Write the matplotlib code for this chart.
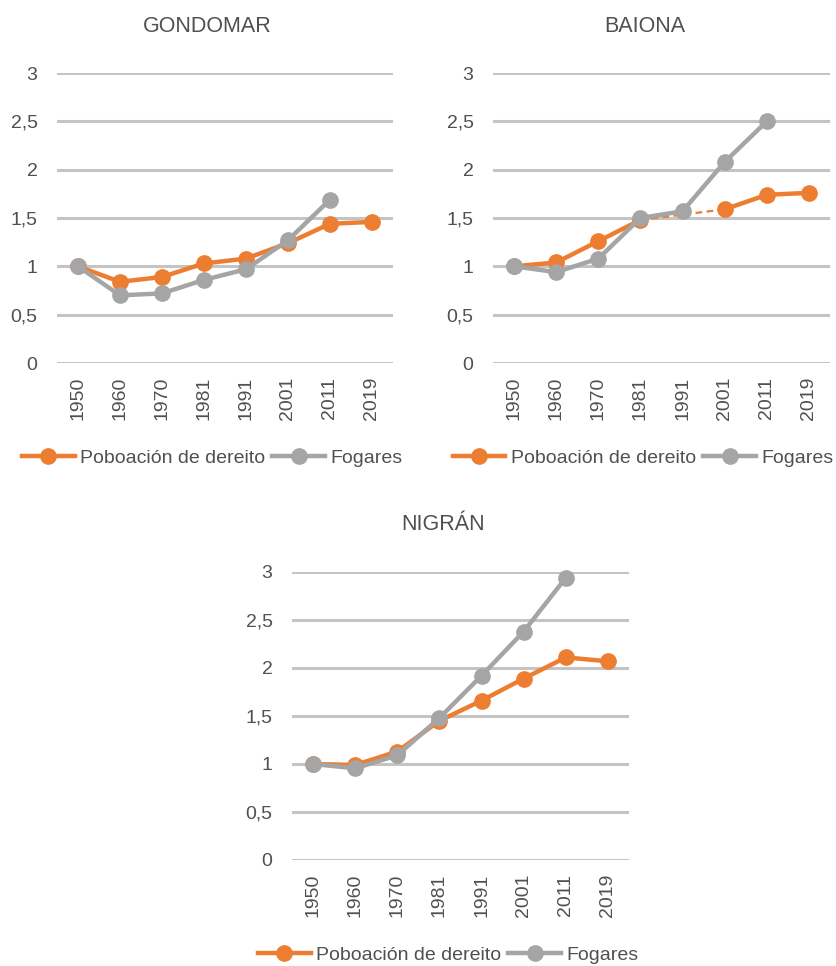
import numpy as np
import matplotlib
matplotlib.use("Agg")
import matplotlib.pyplot as plt

plt.rcParams['font.family'] = ['Liberation Sans', 'DejaVu Sans']

years = ['1950', '1960', '1970', '1981', '1991', '2001', '2011', '2019']
nan = np.nan

gondomar_pob = [1.00, 0.84, 0.89, 1.03, 1.08, 1.24, 1.44, 1.46]
gondomar_fog = [1.00, 0.70, 0.72, 0.86, 0.97, 1.27, 1.69, nan]

baiona_pob = [1.00, 1.04, 1.26, 1.48, nan, 1.59, 1.74, 1.76]
baiona_fog = [1.00, 0.94, 1.08, 1.50, 1.57, 2.08, 2.50, nan]

nigran_pob = [1.00, 0.99, 1.13, 1.45, 1.66, 1.89, 2.11, 2.07]
nigran_fog = [1.00, 0.955, 1.09, 1.48, 1.92, 2.38, 2.94, nan]

y_ticks = [0, 0.5, 1, 1.5, 2, 2.5, 3]
y_labels = ['0', '0,5', '1', '1,5', '2', '2,5', '3']

ORANGE = '#ED7D31'
GRAY = '#A5A5A5'
GRID = '#C4C4C4'
TEXT = '#505050'
FS = 14
TITLE_FS = 15.5

W, H = 837, 966
fig = plt.figure(figsize=(W / 100, H / 100), dpi=100)


def px_axes(x0, top, x1, bottom):
    return fig.add_axes([x0 / W, 1 - bottom / H, (x1 - x0) / W, (bottom - top) / H])


def draw_series(ax, x, vals, color, label, z):
    v = np.array(vals, dtype=float)
    # bridge interior gaps with a thin dashed segment
    valid = np.where(~np.isnan(v))[0]
    for a, b in zip(valid[:-1], valid[1:]):
        if b - a > 1:
            ax.plot([x[a], x[b]], [v[a], v[b]], color=color, lw=1.6,
                    ls=(0, (3, 2)), zorder=z - 0.5)
    ax.plot(x, v, color=color, lw=3.2, marker='o', ms=11, label=label,
            zorder=z, clip_on=False, solid_joinstyle='round')


def panel(box, title, title_xy, pob, fog, legend_xy):
    ax = px_axes(*box)
    x = np.arange(len(years))
    draw_series(ax, x, pob, ORANGE, 'Poboación de dereito', 3)
    draw_series(ax, x, fog, GRAY, 'Fogares', 4)
    ax.set_xlim(-0.5, len(years) - 0.5)
    ax.set_ylim(0, 3)
    ax.set_yticks(y_ticks)
    ax.set_yticklabels(y_labels)
    ax.set_xticks(x)
    ax.set_xticklabels(years, rotation=90)
    ax.tick_params(axis='both', length=0, labelsize=FS, labelcolor=TEXT)
    ax.tick_params(axis='y', pad=14)
    ax.tick_params(axis='x', pad=10)
    for s in ax.spines.values():
        s.set_visible(False)
    ax.yaxis.grid(True, color=GRID, lw=2.2, zorder=0)
    ax.set_axisbelow(True)
    fig.text(title_xy[0] / W, 1 - title_xy[1] / H, title, ha='center',
             va='center', fontsize=TITLE_FS, color=TEXT)
    leg = ax.legend(loc='center left', bbox_to_anchor=(legend_xy[0] / W, 1 - legend_xy[1] / H),
                    bbox_transform=fig.transFigure, ncol=2, frameon=False,
                    fontsize=FS, handlelength=2.7, handletextpad=0.26,
                    columnspacing=0.4, borderpad=0, borderaxespad=0, numpoints=1)
    for t in leg.get_texts():
        t.set_color(TEXT)
    return ax


panel((57, 73, 393, 363), 'GONDOMAR', (207, 27), gondomar_pob, gondomar_fog, (22, 458))
panel((493, 73, 830, 363), 'BAIONA', (645, 27), baiona_pob, baiona_fog, (453, 458))
panel((292, 572, 629, 860), 'NIGRÁN', (443, 525), nigran_pob, nigran_fog, (258, 955))

fig.savefig('out.png', dpi=100, facecolor='white')
